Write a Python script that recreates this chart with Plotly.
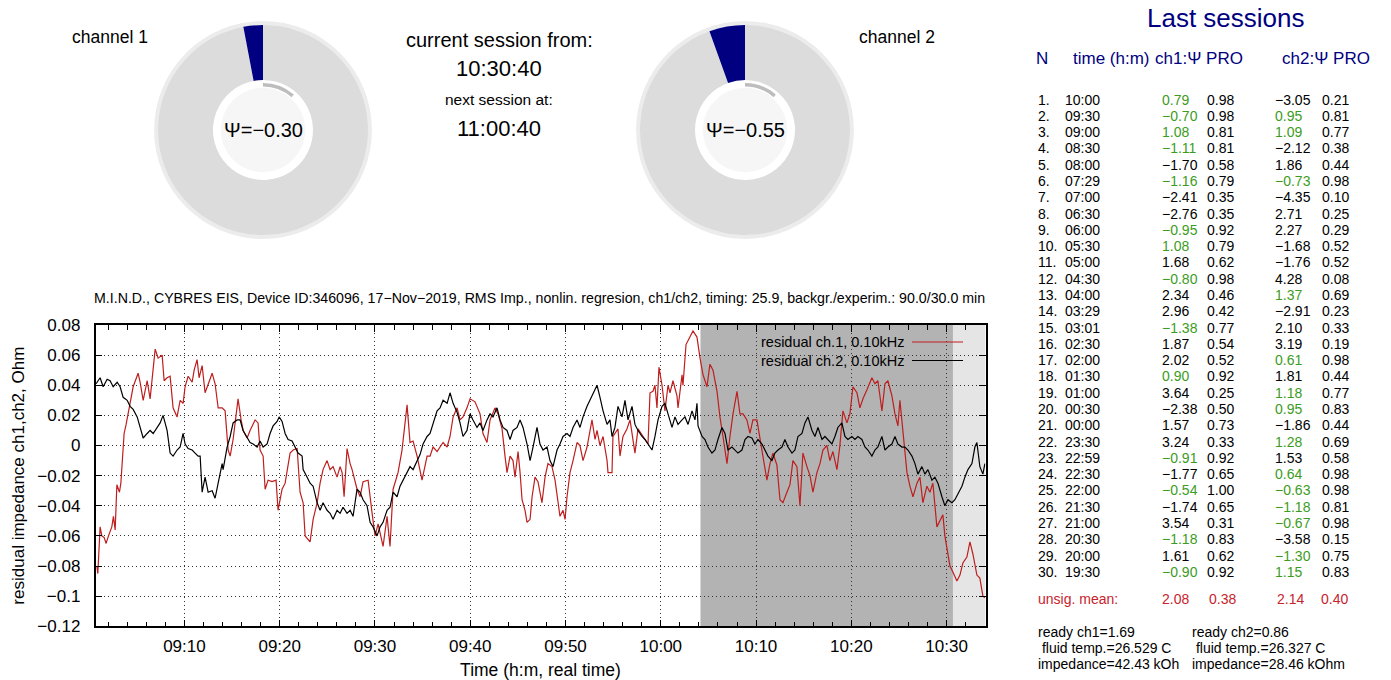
import pandas as pd
import plotly.graph_objects as go

W, H = 1391, 680
FONT = "Liberation Sans, Arial, sans-serif"
NARROW = "Liberation Sans Narrow, Arial Narrow, Liberation Sans, sans-serif"

# ---------------- data ----------------
DAY = pd.Timestamp("2019-11-17 09:00:00")

# residual impedance ch.1 (minutes after 09:00, Ohm)
ch1_min = [
    0.81, 0.91, 1.15, 1.33, 1.57, 1.78, 2.03, 2.38, 2.55, 2.73,
    2.91, 3.18, 3.33, 3.67, 3.88, 4.30, 4.62, 5.14, 5.35, 5.67,
    6.09, 6.40, 6.93, 7.24, 7.66, 7.87, 8.18, 8.50, 8.81, 9.23,
    9.55, 9.86, 10.07, 10.39, 10.81, 11.02, 11.33, 11.54, 11.86, 12.17,
    12.49, 12.91, 13.22, 13.54, 13.96, 14.27, 14.59, 14.80, 15.11, 15.53,
    15.63, 15.95, 16.16, 16.58, 16.89, 17.42, 17.73, 17.94, 18.26, 18.47,
    18.78, 19.20, 19.62, 19.83, 20.25, 20.57, 20.78, 21.09, 21.41, 21.83,
    22.14, 22.46, 22.67, 23.19, 23.51, 23.93, 24.24, 24.55, 24.97, 25.29,
    25.60, 26.02, 26.34, 26.55, 26.76, 27.07, 27.39, 27.60, 28.12, 28.44,
    28.75, 29.28, 29.70, 30.01, 30.33, 30.85, 31.27, 31.58, 31.90, 32.42,
    32.84, 33.16, 33.37, 33.68, 34.00, 34.42, 34.94, 35.47, 35.78, 36.10,
    36.52, 36.83, 37.15, 37.57, 37.88, 38.20, 38.62, 38.93, 39.24, 39.66,
    39.98, 40.50, 41.03, 41.34, 41.76, 42.08, 42.60, 42.92, 43.34, 43.65,
    43.86, 44.18, 44.49, 44.70, 45.02, 45.23, 45.44, 45.75, 45.96, 46.28,
    46.49, 46.80, 47.11, 47.53, 47.85, 48.16, 48.58, 48.90, 49.21, 49.42,
    49.74, 49.95, 50.16, 50.47, 50.79, 51.21, 51.52, 51.84, 52.26, 52.57,
    52.78, 53.10, 53.31, 53.62, 53.94, 54.36, 54.46, 54.88, 54.98, 55.51,
    55.72, 56.03, 56.45, 56.77, 57.08, 57.29, 57.61, 58.03, 58.34, 58.66,
    58.87, 59.18, 59.39, 59.60, 59.81, 60.13, 60.44, 60.76, 60.97, 61.28,
    61.70, 61.81, 62.23, 62.33, 62.65, 63.07, 63.38, 63.80, 63.91, 64.12,
    64.43, 64.85, 65.16, 65.48, 65.90, 66.21, 66.53, 66.95, 67.26, 67.58,
    68.00, 68.31, 68.63, 69.04, 69.36, 69.67, 70.09, 70.41, 70.72, 71.14,
    71.46, 71.77, 72.19, 72.51, 72.82, 73.24, 73.56, 73.87, 74.29, 74.61,
    74.92, 75.34, 75.66, 75.97, 76.39, 76.71, 77.02, 77.44, 77.75, 78.07,
    78.49, 78.80, 79.12, 79.54, 79.85, 80.17, 80.59, 80.90, 81.22, 81.64,
    82.16, 82.48, 82.79, 83.21, 83.53, 83.84, 84.26, 84.58, 84.89, 85.10,
    85.42, 85.84, 86.15, 86.47, 86.89, 87.20, 87.51, 87.93, 88.25, 88.56,
    88.98, 89.30, 89.61, 89.82, 90.14, 90.35, 90.66, 91.08, 91.40, 91.71,
    92.13, 92.45, 92.76, 93.18, 93.49, 93.81, 94.02,
]
ch1_res = [
    -0.080, -0.085, -0.054, -0.060, -0.061, -0.065, -0.060, -0.054, -0.047, -0.056,
    -0.026, -0.031, -0.025, 0.008, 0.014, 0.028, 0.039, 0.048, 0.042, 0.030,
    0.043, 0.031, 0.064, 0.058, 0.060, 0.043, 0.045, 0.046, 0.025, 0.019,
    0.030, 0.028, 0.039, 0.046, 0.042, 0.050, 0.057, 0.045, 0.053, 0.035,
    0.041, 0.048, 0.041, 0.025, 0.025, 0.023, -0.003, -0.007, 0.004, 0.023,
    0.031, 0.017, 0.010, 0.005, 0.010, 0.017, 0.015, -0.003, -0.007, -0.029,
    -0.023, -0.024, -0.023, -0.043, -0.029, -0.025, -0.016, -0.005, -0.003, -0.002,
    -0.031, -0.038, -0.060, -0.064, -0.049, -0.038, -0.025, -0.016, -0.010, -0.016,
    -0.014, -0.021, -0.014, -0.018, -0.034, -0.002, -0.012, -0.016, -0.029, -0.034,
    -0.024, -0.023, -0.045, -0.060, -0.052, -0.067, -0.047, -0.067, -0.029, -0.018,
    -0.003, 0.015, 0.027, 0.002, 0.003, -0.007, -0.023, -0.007, -0.007, -0.001,
    -0.004, -0.001, 0.002, -0.001, 0.006, 0.019, 0.025, 0.017, 0.019, 0.025,
    0.031, 0.029, 0.021, 0.008, 0.002, 0.017, 0.025, 0.021, 0.011, -0.007,
    -0.018, -0.007, -0.010, -0.021, -0.004, -0.018, -0.036, -0.043, -0.051, -0.049,
    -0.034, -0.021, -0.024, -0.038, -0.021, -0.012, -0.014, -0.023, -0.038, -0.047,
    -0.043, -0.049, -0.034, -0.018, -0.010, 0.002, 0.000, -0.010, -0.001, 0.010,
    0.017, 0.004, 0.010, 0.000, 0.006, -0.010, -0.018, -0.018, 0.006, 0.011,
    -0.007, 0.006, 0.011, 0.017, 0.004, -0.005, 0.011, 0.007, 0.004, 0.001,
    0.035, 0.036, 0.040, 0.025, 0.052, 0.040, 0.023, 0.040, 0.035, 0.043,
    0.033, 0.025, 0.047, 0.040, 0.067, 0.072, 0.076, 0.072, 0.067, 0.058,
    0.047, 0.039, 0.054, 0.050, 0.036, 0.019, 0.006, -0.012, 0.006, 0.021,
    0.036, 0.021, 0.021, 0.017, 0.008, 0.017, 0.017, 0.006, -0.007, -0.023,
    -0.012, -0.005, -0.013, -0.036, -0.038, -0.031, -0.026, -0.010, -0.014, -0.040,
    -0.005, -0.014, -0.020, -0.031, -0.018, -0.012, -0.003, 0.000, -0.010, -0.004,
    -0.016, 0.000, 0.023, 0.015, 0.021, 0.039, 0.035, 0.025, 0.031, 0.037,
    0.045, 0.041, 0.043, 0.023, 0.041, 0.043, 0.033, 0.021, 0.013, 0.030,
    0.010, -0.018, -0.027, -0.034, -0.025, -0.021, -0.038, -0.027, -0.031, -0.025,
    -0.054, -0.050, -0.046, -0.060, -0.073, -0.080, -0.084, -0.090, -0.086, -0.078,
    -0.074, -0.064, -0.072, -0.086, -0.088, -0.100, -0.101,
]

# residual impedance ch.2 (minutes after 09:00, Ohm)
ch2_min = [
    0.73, 1.15, 1.47, 1.89, 2.20, 2.52, 2.94, 3.25, 3.57, 3.99,
    4.30, 4.62, 5.04, 5.35, 5.67, 6.09, 6.40, 6.72, 7.14, 7.45,
    7.76, 8.18, 8.50, 8.81, 9.23, 9.55, 9.86, 10.07, 10.39, 10.81,
    11.12, 11.44, 11.65, 11.86, 12.17, 12.49, 12.91, 13.22, 13.54, 13.96,
    14.06, 14.48, 14.80, 15.11, 15.53, 15.84, 16.16, 16.58, 16.89, 17.21,
    17.63, 17.94, 18.26, 18.68, 18.99, 19.31, 19.73, 19.94, 20.25, 20.57,
    20.88, 21.30, 21.62, 21.93, 22.35, 22.46, 22.88, 23.19, 23.51, 23.93,
    24.24, 24.55, 24.97, 25.29, 25.60, 26.02, 26.34, 26.65, 27.07, 27.39,
    27.70, 28.12, 28.44, 28.75, 29.17, 29.49, 29.80, 30.22, 30.54, 30.85,
    31.27, 31.58, 31.90, 32.32, 32.63, 32.95, 33.37, 33.68, 34.00, 34.42,
    34.73, 35.05, 35.47, 35.78, 36.10, 36.52, 36.83, 37.15, 37.57, 37.88,
    38.20, 38.62, 38.93, 39.24, 39.66, 39.98, 40.29, 40.71, 41.03, 41.34,
    41.76, 42.08, 42.39, 42.81, 43.13, 43.44, 43.86, 44.18, 44.49, 44.91,
    45.23, 45.54, 45.96, 46.28, 46.59, 47.01, 47.32, 47.64, 48.06, 48.37,
    48.69, 49.11, 49.42, 49.74, 50.16, 50.47, 50.79, 51.21, 51.52, 51.84,
    52.26, 52.57, 52.89, 53.31, 53.62, 53.94, 54.36, 54.67, 54.88, 55.19,
    55.51, 55.93, 56.24, 56.56, 56.98, 57.29, 57.61, 58.03, 58.34, 58.66,
    59.08, 59.39, 59.71, 60.13, 60.44, 60.76, 61.18, 61.49, 61.81, 62.23,
    62.54, 62.86, 63.28, 63.59, 63.80, 63.91, 64.12, 64.33, 64.64, 64.95,
    65.37, 65.69, 66.00, 66.42, 66.74, 67.05, 67.47, 67.79, 68.10, 68.52,
    68.84, 69.15, 69.57, 69.88, 70.20, 70.62, 70.93, 71.25, 71.67, 71.98,
    72.30, 72.72, 73.03, 73.35, 73.77, 74.08, 74.40, 74.82, 75.13, 75.45,
    75.87, 76.18, 76.50, 76.92, 77.23, 77.54, 77.96, 78.28, 78.59, 79.01,
    79.33, 79.64, 80.06, 80.38, 80.69, 81.11, 81.43, 81.74, 82.16, 82.48,
    82.79, 83.21, 83.53, 83.84, 84.26, 84.58, 84.89, 85.31, 85.63, 85.94,
    86.36, 86.68, 86.99, 87.41, 87.72, 88.04, 88.46, 88.77, 89.09, 89.51,
    89.82, 90.14, 90.56, 90.87, 91.19, 91.61, 91.92, 92.24, 92.66, 92.97,
    93.18, 93.49, 93.81, 94.02,
]
ch2_res = [
    0.041, 0.045, 0.039, 0.044, 0.043, 0.039, 0.042, 0.039, 0.032, 0.030,
    0.026, 0.024, 0.019, 0.012, 0.005, 0.008, 0.010, 0.008, 0.012, 0.015,
    0.020, 0.010, -0.005, -0.007, -0.003, -0.001, 0.008, 0.001, -0.002, -0.003,
    -0.005, -0.007, -0.007, -0.031, -0.021, -0.031, -0.030, -0.035, -0.025, -0.012,
    -0.016, -0.001, 0.006, 0.015, 0.017, 0.017, 0.010, 0.005, 0.002, 0.001,
    -0.001, 0.003, -0.001, 0.001, 0.008, 0.013, 0.016, 0.019, 0.016, 0.008,
    0.004, 0.003, -0.001, -0.005, -0.007, -0.016, -0.021, -0.025, -0.027, -0.038,
    -0.043, -0.038, -0.043, -0.045, -0.049, -0.043, -0.045, -0.041, -0.045, -0.043,
    -0.047, -0.029, -0.031, -0.036, -0.040, -0.051, -0.054, -0.060, -0.054, -0.051,
    -0.043, -0.041, -0.031, -0.034, -0.027, -0.023, -0.018, -0.014, -0.016, -0.010,
    -0.006, 0.001, 0.006, 0.008, 0.015, 0.023, 0.025, 0.030, 0.028, 0.035,
    0.028, 0.022, 0.015, 0.006, 0.010, 0.021, 0.017, 0.012, 0.015, 0.010,
    0.017, 0.021, 0.019, 0.025, 0.017, 0.012, 0.010, 0.004, 0.010, 0.012,
    0.017, 0.012, 0.001, -0.010, -0.001, 0.012, 0.001, -0.003, -0.001, -0.010,
    -0.014, -0.003, 0.001, 0.006, 0.008, 0.006, 0.012, 0.017, 0.012, 0.019,
    0.026, 0.030, 0.035, 0.040, 0.032, 0.023, 0.014, 0.017, 0.006, 0.012,
    0.026, 0.019, 0.030, 0.017, 0.026, 0.014, 0.010, 0.006, 0.004, 0.001,
    -0.003, 0.006, 0.017, 0.026, 0.028, 0.021, 0.012, 0.019, 0.014, 0.017,
    0.019, 0.014, 0.023, 0.017, 0.028, 0.013, 0.010, 0.006, 0.004, -0.001,
    -0.005, -0.003, 0.004, 0.012, 0.008, -0.003, -0.001, -0.003, -0.005, -0.003,
    0.004, 0.006, 0.005, 0.001, 0.004, 0.001, -0.003, -0.007, -0.010, -0.005,
    -0.003, -0.001, 0.004, -0.001, -0.005, -0.003, 0.006, 0.008, 0.015, 0.019,
    0.010, 0.006, 0.012, 0.004, 0.006, 0.004, 0.001, 0.006, 0.012, 0.015,
    0.006, 0.004, 0.006, 0.004, 0.006, 0.004, -0.001, -0.003, -0.007, -0.003,
    -0.001, 0.006, -0.003, -0.001, 0.001, 0.006, 0.001, -0.001, -0.001, -0.003,
    -0.007, -0.012, -0.019, -0.014, -0.019, -0.016, -0.023, -0.021, -0.025, -0.034,
    -0.040, -0.036, -0.038, -0.036, -0.032, -0.027, -0.021, -0.016, -0.012, -0.001,
    0.002, -0.014, -0.019, -0.012,
]

view_start, view_end = "09:00:40", "10:34:05"
background_window = ("10:04:10", "10:30:40")
experiment_start = "10:30:40"
session_len_min = 30

y_tickvals = [0.08, 0.06, 0.04, 0.02, 0, -0.02, -0.04, -0.06, -0.08, -0.1, -0.12]
y_ticktext = ["0.08", "0.06", "0.04", "0.02", "0", "\u22120.02", "\u22120.04",
              "\u22120.06", "\u22120.08", "\u22120.1", "\u22120.12"]

# gauges: current Psi values per channel
gauge_channels = ["channel 1", "channel 2"]
gauge_psi = [-0.30, -0.55]
DEG_PER_UNIT = 36.0

# last sessions table
sess_n = list(range(1, 31))
sess_time = ["10:00", "09:30", "09:00", "08:30", "08:00", "07:29", "07:00", "06:30",
             "06:00", "05:30", "05:00", "04:30", "04:00", "03:29", "03:01", "02:30",
             "02:00", "01:30", "01:00", "00:30", "00:00", "23:30", "22:59", "22:30",
             "22:00", "21:30", "21:00", "20:30", "20:00", "19:30"]
ch1_psi = [0.79, -0.70, 1.08, -1.11, -1.70, -1.16, -2.41, -2.76, -0.95, 1.08,
           1.68, -0.80, 2.34, 2.96, -1.38, 1.87, 2.02, 0.90, 3.64, -2.38,
           1.57, 3.24, -0.91, -1.77, -0.54, -1.74, 3.54, -1.18, 1.61, -0.90]
ch1_pro = [0.98, 0.98, 0.81, 0.81, 0.58, 0.79, 0.35, 0.35, 0.92, 0.79,
           0.62, 0.98, 0.46, 0.42, 0.77, 0.54, 0.52, 0.92, 0.25, 0.50,
           0.73, 0.33, 0.92, 0.65, 1.00, 0.65, 0.31, 0.83, 0.62, 0.92]
ch2_psi = [-3.05, 0.95, 1.09, -2.12, 1.86, -0.73, -4.35, 2.71, 2.27, -1.68,
           -1.76, 4.28, 1.37, -2.91, 2.10, 3.19, 0.61, 1.81, 1.18, 0.95,
           -1.86, 1.28, 1.53, 0.64, -0.63, -1.18, -0.67, -3.58, -1.30, 1.15]
ch2_pro = [0.21, 0.81, 0.77, 0.38, 0.44, 0.98, 0.10, 0.25, 0.29, 0.52,
           0.52, 0.08, 0.69, 0.23, 0.33, 0.19, 0.98, 0.44, 0.77, 0.83,
           0.44, 0.69, 0.58, 0.98, 0.98, 0.81, 0.98, 0.15, 0.75, 0.83]
unsig_mean = [2.08, 0.38, 2.14, 0.40]
PSI_LIMIT = 1.5

status_left = ["ready ch1=1.69", " fluid temp.=26.529 C", "impedance=42.43 kOh"]
status_right = ["ready ch2=0.86", " fluid temp.=26.327 C", "impedance=28.46 kOhm"]

# ---------------- helpers ----------------
NAVY = "#00007f"
GREEN = "#3c9c22"
RED_TXT = "#c8232c"
RED_LINE = "#be1e1e"


def at(clock):
    return pd.Timestamp(f"2019-11-17 {clock}")


def to_time(mins):
    return [DAY + pd.Timedelta(minutes=m) for m in mins]


def px(x):
    return x / W


def py(y):
    return 1 - y / H


def fmt(v):
    return f"{v:.2f}".replace("-", "\u2212")


annotations = []


def label(x, y, text, size, color="black", anchor="left", family=FONT):
    annotations.append(dict(
        x=px(x), y=py(y), xref="paper", yref="paper", text=text,
        showarrow=False, xanchor=anchor, yanchor="middle",
        font=dict(size=size, color=color, family=family),
    ))


fig = go.Figure()

# ---------------- time series ----------------
fig.add_trace(go.Scatter(x=to_time(ch1_min), y=ch1_res, mode="lines",
                         name="residual ch.1, 0.10kHz",
                         line=dict(color=RED_LINE, width=1.2)))
fig.add_trace(go.Scatter(x=to_time(ch2_min), y=ch2_res, mode="lines",
                         name="residual ch.2, 0.10kHz",
                         line=dict(color="black", width=1.2)))

shapes = [
    dict(type="rect", xref="x", yref="y domain", layer="below",
         x0=at(background_window[0]), x1=at(background_window[1]), y0=0, y1=1,
         fillcolor="#b3b3b3", line=dict(width=0)),
    dict(type="rect", xref="x", yref="y domain", layer="below",
         x0=at(experiment_start), x1=at(view_end), y0=0, y1=1,
         fillcolor="#e5e5e5", line=dict(width=0)),
]

# key in gnuplot style: text right, sample line after it
for i, (name, col) in enumerate([("residual ch.1, 0.10kHz", RED_LINE),
                                 ("residual ch.2, 0.10kHz", "black")]):
    yk = 342 + i * 18.5
    label(906, yk, name, 14.5, anchor="right")
    shapes.append(dict(type="line", xref="paper", yref="paper",
                       x0=px(912), x1=px(963), y0=py(yk), y1=py(yk),
                       line=dict(color=col, width=1.2)))

label(539, 298, "M.I.N.D., CYBRES EIS, Device ID:346096, 17\u2212Nov\u22122019, RMS Imp., "
      "nonlin. regresion, ch1/ch2, timing: 25.9, backgr./experim.: 90.0/30.0 min",
      14.2, family=NARROW, anchor="center")

# ---------------- gauges ----------------
elapsed = (at(view_end) - at(experiment_start)).total_seconds() / 60.0
progress_deg = 360.0 * elapsed / session_len_min
gauge_centers = [(263, 130), (745, 130)]
R_OUT = 109

for gi, (psi, (cx, cy)) in enumerate(zip(gauge_psi, gauge_centers)):
    sp = "polar" if gi == 0 else "polar2"
    w = abs(psi) * DEG_PER_UNIT
    sgn = -1 if psi < 0 else 1

    def bars(r, base, theta, width, color, lw=0):
        fig.add_trace(go.Barpolar(
            r=r, base=base, theta=theta, width=width, subplot=sp,
            marker=dict(color=color, line=dict(color=color, width=lw)),
            hoverinfo="skip", showlegend=False))

    bars([4, 4], [105, 105], [90, 270], [180, 180], "#ececec", 0.5)
    bars([55], [50], [sgn * w / 2 + 180], [360 - w], "#dcdcdc")
    bars([55], [50], [sgn * w / 2], [w], "#000080")
    bars([42, 42], [0, 0], [90, 270], [180, 180], "#f6f6f6", 0.5)
    bars([3.5], [43.5], [progress_deg / 2], [progress_deg], "#bdbdbd")

    label(cx, cy, f"\u03a8={fmt(psi)}", 20, anchor="center")

polar_common = dict(
    bgcolor="rgba(0,0,0,0)", barmode="overlay",
    angularaxis=dict(visible=False, rotation=90, direction="clockwise"),
    radialaxis=dict(visible=False, range=[0, R_OUT]),
)
fig.update_layout(
    polar=dict(domain=dict(x=[px(263 - R_OUT), px(263 + R_OUT)],
                           y=[py(130 + R_OUT), py(130 - R_OUT)]), **polar_common),
    polar2=dict(domain=dict(x=[px(745 - R_OUT), px(745 + R_OUT)],
                            y=[py(130 + R_OUT), py(130 - R_OUT)]), **polar_common),
)

label(110, 37, gauge_channels[0], 17.5, anchor="center")
label(897, 37, gauge_channels[1], 17.5, anchor="center")

label(499, 40, "current session from:", 20, anchor="center")
label(499, 69, "10:30:40", 22, anchor="center")
label(499, 99, "next session at:", 15.5, anchor="center")
label(499, 128, "11:00:40", 22, anchor="center")

# ---------------- last sessions table ----------------
label(1226, 18, "Last sessions", 26, color=NAVY, anchor="center")
label(1034, 58, "N", 17, color=NAVY)
label(1071, 58, "time (h:m)", 17, color=NAVY)
label(1153, 58, "ch1:\u03a8 PRO", 17, color=NAVY)
label(1280, 58, "ch2:\u03a8 PRO", 17, color=NAVY)

ROW0, ROW_STEP = 99.5, 16.29
for k in range(len(sess_n)):
    yr = ROW0 + k * ROW_STEP
    label(1036, yr, f"{sess_n[k]}.", 14)
    label(1063, yr, sess_time[k], 14)
    label(1160, yr, fmt(ch1_psi[k]), 14,
          color=GREEN if abs(ch1_psi[k]) < PSI_LIMIT else "black")
    label(1205, yr, f"{ch1_pro[k]:.2f}", 14)
    label(1273, yr, fmt(ch2_psi[k]), 14,
          color=GREEN if abs(ch2_psi[k]) < PSI_LIMIT else "black")
    label(1320, yr, f"{ch2_pro[k]:.2f}", 14)

label(1036, 599, "unsig. mean:", 14, color=RED_TXT)
for xv, v in zip([1160, 1207, 1275, 1319], unsig_mean):
    label(xv, 599, f"{v:.2f}", 14, color=RED_TXT)

for i, (a, b) in enumerate(zip(status_left, status_right)):
    yy = 632 + i * 16
    label(1036, yy, a.replace(" ", "&nbsp;", 1) if a.startswith(" ") else a, 14)
    label(1190, yy, b.replace(" ", "&nbsp;", 1) if b.startswith(" ") else b, 14)

# ---------------- axes ----------------
fig.update_layout(
    width=W, height=H, margin=dict(l=0, r=0, t=0, b=0, autoexpand=False),
    paper_bgcolor="white", plot_bgcolor="white", showlegend=False,
    font=dict(family=FONT, color="black"),
    shapes=shapes, annotations=annotations,
    xaxis=dict(
        domain=[px(95.5), px(985.5)], type="date", automargin=False,
        range=[at(view_start), at(view_end)],
        tick0=at("09:00:00"), dtick=600000, tickformat="%H:%M",
        ticks="inside", ticklen=7, tickwidth=1, tickcolor="black",
        minor=dict(dtick=120000, ticks="inside", ticklen=5, tickcolor="black",
                   showgrid=False),
        showline=True, linecolor="black", linewidth=1.5, mirror="allticks",
        showgrid=True, gridcolor="#333333", griddash="1px,3px", gridwidth=1,
        tickfont=dict(size=17), ticklabelstandoff=4,
        title=dict(text="Time (h:m, real time)", font=dict(size=17.5), standoff=10),
    ),
    yaxis=dict(
        domain=[py(626.3), py(325)], range=[-0.12, 0.08], automargin=False,
        tickmode="array", tickvals=y_tickvals, ticktext=y_ticktext,
        ticks="inside", ticklen=7, tickwidth=1, tickcolor="black",
        showline=True, linecolor="black", linewidth=1.5, mirror="allticks",
        showgrid=True, gridcolor="#333333", griddash="1px,3px", gridwidth=1,
        zeroline=False, tickfont=dict(size=17), ticklabelstandoff=10,
        title=dict(text="residual impedance ch1,ch2, Ohm", font=dict(size=17), standoff=8),
    ),
)

fig.write_html("out.html")
